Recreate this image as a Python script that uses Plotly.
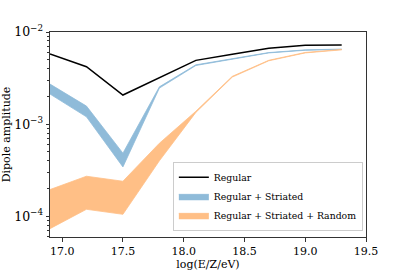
import plotly.graph_objects as go

log_e = [16.9, 17.2, 17.5, 17.8, 18.1, 18.4, 18.7, 19.0, 19.3]
regular = [5.77e-3, 4.2e-3, 2.07e-3, 3.2e-3, 4.92e-3, 5.73e-3, 6.65e-3, 7.2e-3, 7.22e-3]
striated_low = [2.12e-3, 1.2e-3, 3.43e-4, 2.46e-3, 4.33e-3, 5.08e-3, 5.93e-3, 6.33e-3, 6.47e-3]
striated_high = [2.72e-3, 1.57e-3, 4.84e-4, 2.54e-3, 4.4e-3, 5.13e-3, 5.98e-3, 6.4e-3, 6.53e-3]
random_low = [7.34e-5, 1.19e-4, 1.05e-4, 4.0e-4, 1.34e-3, 3.24e-3, 4.87e-3, 5.93e-3, 6.4e-3]
random_high = [1.95e-4, 2.72e-4, 2.4e-4, 6.2e-4, 1.38e-3, 3.3e-3, 4.93e-3, 6.0e-3, 6.47e-3]
y_major_ticks = [1e-4, 1e-3, 1e-2]
y_major_labels = ["10<sup>−4</sup>", "10<sup>−3</sup>", "10<sup>−2</sup>"]
y_minor_ticks = [m * 10.0 ** e for e in (-5, -4, -3) for m in range(2, 10)]

blue = "rgb(143,187,217)"
orange = "rgb(255,191,134)"
font = "DejaVu Serif"

fig = go.Figure()
fig.add_trace(go.Scatter(x=log_e, y=regular, mode="lines", name="Regular",
                         line=dict(color="black", width=1.5)))
fig.add_trace(go.Scatter(x=log_e, y=striated_low, mode="lines", showlegend=False,
                         line=dict(color=blue, width=0.8), hoverinfo="skip"))
fig.add_trace(go.Scatter(x=log_e, y=striated_high, mode="lines", name="Regular + Striated",
                         fill="tonexty", fillcolor=blue, line=dict(color=blue, width=0.8)))
fig.add_trace(go.Scatter(x=log_e, y=random_low, mode="lines", showlegend=False,
                         line=dict(color=orange, width=0.8), hoverinfo="skip"))
fig.add_trace(go.Scatter(x=log_e, y=random_high, mode="lines", name="Regular + Striated + Random",
                         fill="tonexty", fillcolor=orange, line=dict(color=orange, width=0.8)))

axis_common = dict(showline=True, linecolor="#333", linewidth=1, mirror=True,
                   ticks="outside", ticklen=3.5, tickcolor="#333", showgrid=False,
                   zeroline=False, automargin=False)

fig.update_xaxes(range=[16.9, 19.5], dtick=0.5, tick0=17.0, tickformat=".1f",
                 tickfont=dict(family=font, size=11, color="black"),
                 title=dict(text="log(E/Z/eV)", font=dict(family=font, size=11, color="black"), standoff=2),
                 **axis_common)
fig.update_yaxes(type="log", range=[-4.225, -2], tickmode="array",
                 tickvals=y_major_ticks, ticktext=y_major_labels,
                 tickfont=dict(family=font, size=12.5, color="black"),
                 minor=dict(ticks="outside", ticklen=2, tickmode="array", tickvals=y_minor_ticks,
                            tickcolor="#333", showgrid=False),
                 title=dict(text="Dipole amplitude", font=dict(family=font, size=11, color="black"), standoff=11),
                 **axis_common)

fig.update_layout(
    width=407, height=271,
    margin=dict(l=50, r=41, t=32, b=34),
    plot_bgcolor="white", paper_bgcolor="white",
    font=dict(family=font, size=11, color="black"),
    legend=dict(x=0.99, y=0.03, xanchor="right", yanchor="bottom", traceorder="normal",
                bgcolor="rgba(255,255,255,0.8)", bordercolor="#ccc", borderwidth=1,
                font=dict(family=font, size=9.3), tracegroupgap=0, itemwidth=30),
    showlegend=True,
)

fig.write_html("out.html", config={"displayModeBar": False},
               post_script="document.body.style.margin='0';")
